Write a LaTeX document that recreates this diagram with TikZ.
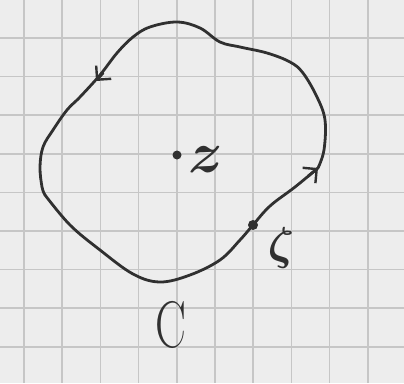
\documentclass[tikz,border=0pt]{standalone}
\usetikzlibrary{arrows.meta}
\definecolor{paper}{RGB}{237,237,237}
\definecolor{gridc}{RGB}{198,198,198}
\definecolor{ink}{RGB}{48,48,48}
\begin{document}
\begin{tikzpicture}[x=1pt,y=-1pt,
  curve/.style={draw=ink,line width=2.8pt,line cap=round,line join=round},
  gridline/.style={draw=gridc,line width=1.6pt},
  tipped/.style={-{Straight Barb[length=10pt,width=20pt,line width=2.4pt]}},
  dotc/.style={circle,fill=ink,inner sep=0pt,minimum size=#1},
  lab/.style={text=ink,inner sep=0pt}]
\fill[paper] (0,0) rectangle (404,383);
\useasboundingbox (0,0) rectangle (404,383);
\foreach \i in {0,...,9} \draw[gridline] ({24+38.2*\i},0) -- ({24+38.2*\i},383);
\foreach \j in {0,...,8} \draw[gridline] (0,{38+38.6*\j}) -- (404,{38+38.6*\j});
% contour C
\draw[curve] plot[smooth, tension=0.6] coordinates {(45,195) (70,225) (100,250) (133,274) (160,282) (190,275) (220,260) (240,240) (253,225) (270,206) (295,187) (318,168)};
\draw[curve] plot[smooth, tension=0.6] coordinates {(318,168) (324,150) (325,120) (317,97) (303,73) (290,62) (267,53) (240,47) (220,42) (200,28) (177,22) (150,27) (133,37) (117,53) (100,75) (80,97) (67,110) (53,130) (43,147) (40,167) (42,187) (45,195)};
% arrowheads
\coordinate (ra) at (308,176.3);
\coordinate (rb) at (318,168);
\coordinate (la) at (103,73);
\coordinate (lb) at (96,81);
\draw[curve,tipped] (ra) -- (rb);
\draw[curve,tipped] (la) -- (lb);
% points
\node[dotc=9pt] (zdot) at (177,155) {};
\node[dotc=10pt] (zetadot) at (253,225) {};
% labels
\node[lab] (zlab) at (206,160) {\scalebox{5.8}{\boldmath$z$}};
\node[lab] (zetalab) at (281,248) {\scalebox{4.6}{\boldmath$\zeta$}};
\node[lab] (clab) at (171,325) {\scalebox{0.7}[1]{\fontsize{66}{66}\selectfont C}};
\end{tikzpicture}
\end{document}
